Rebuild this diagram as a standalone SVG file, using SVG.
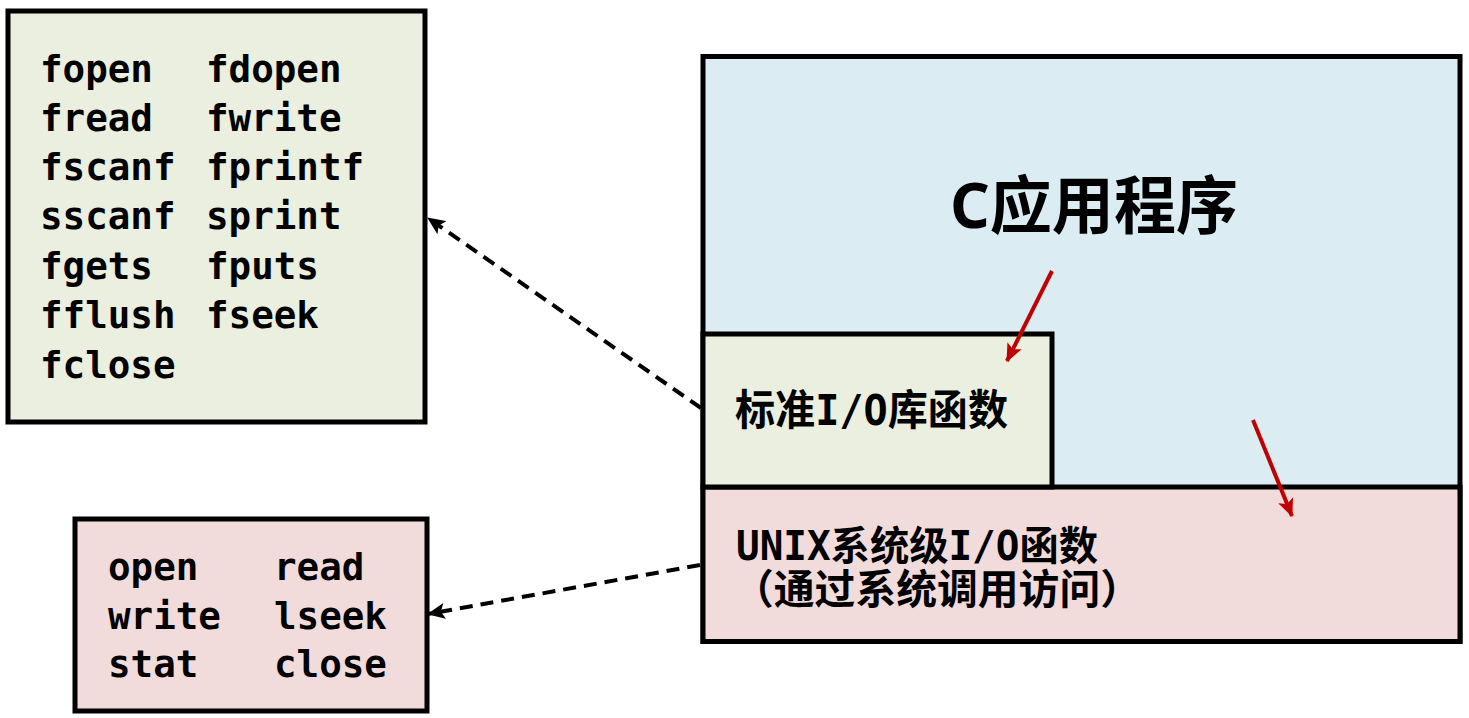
<svg xmlns="http://www.w3.org/2000/svg" width="1469" height="718" viewBox="0 0 1469 718">
<defs>
<style>
.box{stroke:#000;stroke-width:5}
.lst{fill:#EBEFDF}
.blue{fill:#DBEDF3}
.pink{fill:#F2DCDB}
.mono{font-family:"DejaVu Sans Mono","Liberation Mono",monospace;font-weight:bold;font-size:37.5px;fill:#000}
.cjk{font-family:"DejaVu Sans Mono","Noto Sans CJK SC",sans-serif;font-weight:bold;fill:#000}
.title{font-family:"Noto Sans","Noto Sans CJK SC",sans-serif;font-weight:bold;font-size:63px;fill:#000}
.dash{fill:none;stroke:#000;stroke-width:4;stroke-dasharray:13 8}
.red{fill:none;stroke:#C00000;stroke-width:4}
</style>
<marker id="ab" markerUnits="userSpaceOnUse" markerWidth="18" markerHeight="16" viewBox="0 0 18 16" refX="17" refY="8" orient="auto">
<path d="M0,0 L18,8 L0,16 L4,8 Z" fill="#000"/>
</marker>
<marker id="ar" markerUnits="userSpaceOnUse" markerWidth="18" markerHeight="16" viewBox="0 0 18 16" refX="17" refY="8" orient="auto">
<path d="M0,0 L18,8 L0,16 L4,8 Z" fill="#C00000"/>
</marker>
</defs>
<rect width="1469" height="718" fill="#fff"/>

<g id="node-stdio-list">
<rect class="box lst" x="8" y="11" width="417" height="411"/>
<text class="mono" x="40" y="82">fopen</text>
<text class="mono" x="206" y="82">fdopen</text>
<text class="mono" x="40" y="131">fread</text>
<text class="mono" x="206" y="131">fwrite</text>
<text class="mono" x="40" y="180">fscanf</text>
<text class="mono" x="206" y="180">fprintf</text>
<text class="mono" x="40" y="229">sscanf</text>
<text class="mono" x="206" y="229">sprint</text>
<text class="mono" x="40" y="279">fgets</text>
<text class="mono" x="206" y="279">fputs</text>
<text class="mono" x="40" y="328">fflush</text>
<text class="mono" x="206" y="328">fseek</text>
<text class="mono" x="40" y="378">fclose</text>
</g>

<g id="node-unix-list">
<rect class="box pink" x="75" y="519" width="352" height="192"/>
<text class="mono" x="108" y="580">open</text>
<text class="mono" x="274" y="580">read</text>
<text class="mono" x="108" y="629">write</text>
<text class="mono" x="274" y="629">lseek</text>
<text class="mono" x="108" y="677">stat</text>
<text class="mono" x="274" y="677">close</text>
</g>

<g id="node-app">
<rect class="box blue" x="703" y="56.5" width="757" height="585"/>
<text class="title" x="950" y="228" textLength="288" lengthAdjust="spacingAndGlyphs">C应用程序</text>
</g>

<g id="node-unix">
<rect class="box pink" x="703" y="487" width="757" height="154.5"/>
<text class="cjk" x="736" y="560" font-size="40" textLength="362" lengthAdjust="spacingAndGlyphs">UNIX系统级I/O函数</text>
<text class="cjk" x="733" y="604" font-size="41" textLength="408" lengthAdjust="spacingAndGlyphs">（通过系统调用访问）</text>
</g>

<g id="node-stdio">
<rect class="box lst" x="703" y="334" width="349" height="153"/>
<text class="cjk" x="735" y="425" font-size="42" textLength="273" lengthAdjust="spacingAndGlyphs">标准I/O库函数</text>
</g>

<g id="connectors">
<line class="dash" x1="701" y1="408" x2="428" y2="218" marker-end="url(#ab)"/>
<line class="dash" x1="700" y1="565" x2="428" y2="614" marker-end="url(#ab)"/>
<line class="red" x1="1052" y1="271" x2="1007" y2="361" marker-end="url(#ar)"/>
<line class="red" x1="1253" y1="420" x2="1292" y2="516" marker-end="url(#ar)"/>
</g>
</svg>
